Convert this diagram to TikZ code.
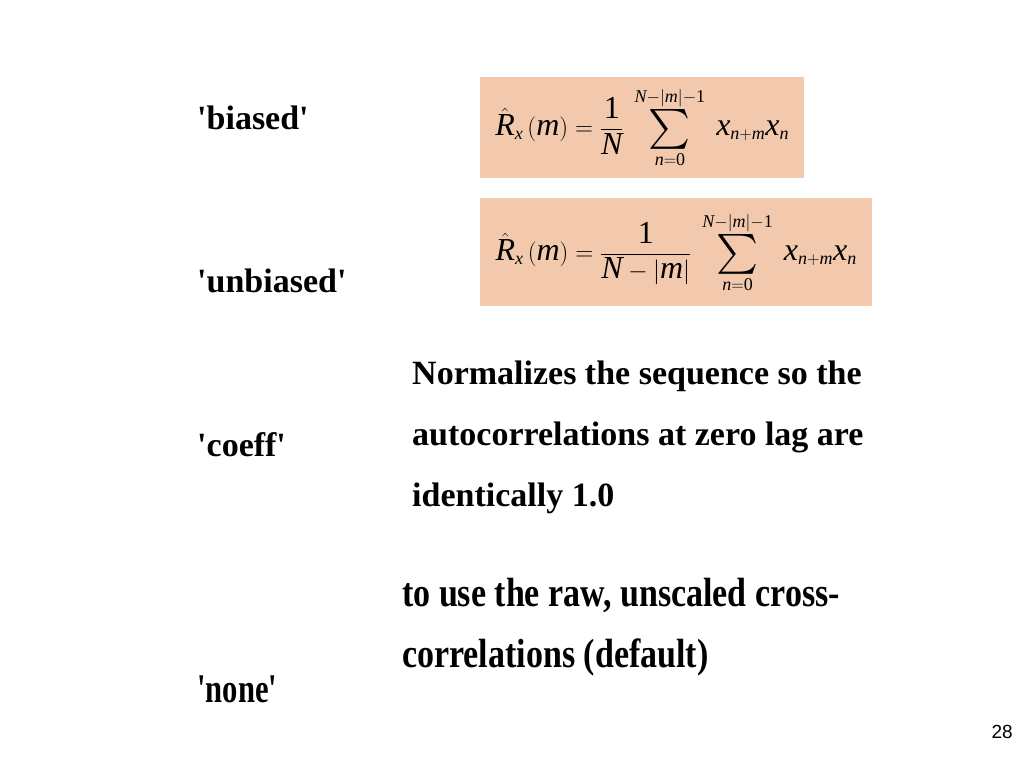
\documentclass[tikz,border=0pt]{standalone}
\usepackage{amsmath}
\usepackage{graphicx}
\usepackage{fontspec}
\setmainfont{Liberation Serif}
\setsansfont{Liberation Sans}
\usepackage{tikz}
\usetikzlibrary{positioning}
\definecolor{peach}{HTML}{F2C9AD}
\DeclareMathSizes{32}{32}{18}{14}
\newcommand{\vi}[1]{\text{\rmfamily\mdseries\itshape #1}}
\newcommand{\vr}[1]{\text{\rmfamily\mdseries\upshape #1}}
\newcommand{\qt}{\textquotesingle}
\newcommand{\bigsum}{\mathop{\vcenter{\hbox{\scalebox{1.6}{$\textstyle\sum$}}}}}
\newcommand{\sumlim}{\bigsum\limits_{\vi{n}=\vr{0}}^{\vi{N}-|\vi{m}|-\vr{1}}}
\tikzset{
  opt/.style={anchor=base west, inner sep=0pt, font=\fontsize{34}{38}\selectfont\bfseries},
  desc/.style={anchor=base west, inner sep=0pt, font=\fontsize{34}{40}\selectfont\bfseries},
  formbox/.style={fill=peach, inner sep=0pt, anchor=north west, font=\fontsize{32}{36}\selectfont}
}
\begin{document}
\begin{tikzpicture}[x=1pt, y=-1pt]
            \useasboundingbox (0,0) rectangle (1024,768);
            \node[opt] at (197, 129) (biased)   {\qt biased\qt};
            \node[opt] at (197, 292) (unbiased) {\qt unbiased\qt};
            \node[opt] at (197, 456) (coeff)    {\qt coeff\qt};
            \node[opt, yscale=1.2, xscale=0.9] at (197, 702) (none) {\qt none\qt};

            \node[formbox, minimum width=324pt, minimum height=101pt] at (480, 77) (fbiased)
                {$\displaystyle \hat{\vi{R}}_{\vi{x}}\,(\vi{m})=\frac{\vr{1}}{\vi{N}}\;\sumlim\;\vi{x}_{\vi{n}+\vi{m}}\vi{x}_{\vi{n}}$};
            \node[formbox, minimum width=392pt, minimum height=108pt] at (480, 198) (funbiased)
                {$\displaystyle \hat{\vi{R}}_{\vi{x}}\,(\vi{m})=\frac{\vr{1}}{\vi{N}-|\vi{m}|}\;\sumlim\;\vi{x}_{\vi{n}+\vi{m}}\vi{x}_{\vi{n}}$};

            % coeff description
            \node[desc] at (412, 384) (coeffa) {Normalizes the sequence so the};
            \node[desc] at (412, 445) (coeffb) {autocorrelations at zero lag are};
            \node[desc] at (412, 506) (coeffc) {identically 1.0};
            % none description
            \node[desc, yscale=1.2] at (402, 606) (nonea) {to use the raw, unscaled cross-};
            \node[desc, yscale=1.2] at (402, 667) (noneb) {correlations (default)};

            \node[anchor=base east, inner sep=0pt, font=\sffamily\fontsize{19}{22}\selectfont] at (1013, 738) (page) {28};
\end{tikzpicture}
\end{document}
